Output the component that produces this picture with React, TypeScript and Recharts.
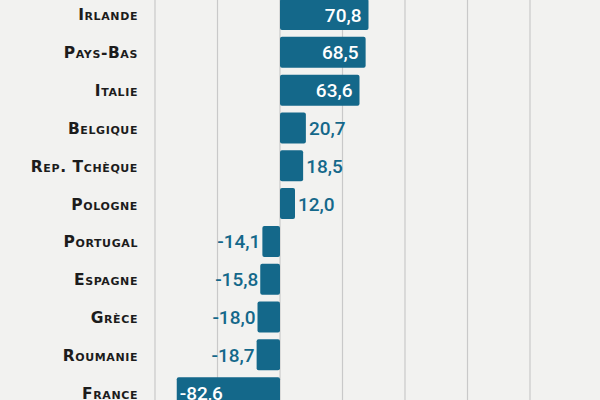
import React from "react";
import { BarChart, Bar, XAxis, YAxis, CartesianGrid, LabelList } from "recharts";

const countries = [
  "Irlande",
  "Pays-Bas",
  "Italie",
  "Belgique",
  "Rep. Tchèque",
  "Pologne",
  "Portugal",
  "Espagne",
  "Grèce",
  "Roumanie",
  "France",
];
const values = [70.8, 68.5, 63.6, 20.7, 18.5, 12.0, -14.1, -15.8, -18.0, -18.7, -82.6];
const xTicks = [-100, -50, 0, 50, 100, 150, 200];

const data = countries.map((name, i) => ({ name, value: values[i] }));

const BAR = "#14688a";
const fmt = (v: number) => v.toFixed(1).replace(".", ",");

const CountryTick = (props: any) => {
  const { y, payload } = props;
  return (
    <text
      x={138}
      y={y}
      dy={5.5}
      textAnchor="end"
      fill="#1c1c1c"
      fontFamily="DejaVu Sans, sans-serif"
      fontWeight={700}
      fontSize={15.5}
      style={{ fontVariant: "small-caps", letterSpacing: 0.6 }}
    >
      {payload.value}
    </text>
  );
};

const ValueLabel = (props: any) => {
  const { x, y, width, height, value } = props;
  const v = Number(value);
  const cy = y + height / 2 + 7;
  const big = Math.abs(v) > 40;
  let tx: number;
  let anchor: "start" | "end";
  let fill: string;
  const left = Math.min(x, x + width);
  const right = Math.max(x, x + width);
  if (v >= 0) {
    if (big) {
      tx = right - 7;
      anchor = "end";
      fill = "#ffffff";
    } else {
      tx = right + 3;
      anchor = "start";
      fill = BAR;
    }
  } else {
    if (big) {
      tx = left + 3;
      anchor = "start";
      fill = "#ffffff";
    } else {
      tx = left - 2;
      anchor = "end";
      fill = BAR;
    }
  }
  return (
    <text
      x={tx}
      y={cy}
      textAnchor={anchor}
      fill={fill}
      fontFamily="Roboto, sans-serif"
      fontWeight={500}
      fontSize={19}
    >
      {fmt(v)}
    </text>
  );
};

export default function App() {
  return (
    <div
      style={{
        position: "fixed",
        left: 0,
        top: 0,
        width: 600,
        height: 400,
        overflow: "hidden",
        background: "#f2f2f0",
      }}
    >
      <div style={{ position: "absolute", left: 0, top: -4 }}>
        <BarChart
          width={600}
          height={420}
          data={data}
          layout="vertical"
          margin={{ top: 0, right: 70, bottom: 4, left: 0 }}
          barSize={31}
        >
          <CartesianGrid horizontal={false} vertical stroke="#c9c9c9" strokeWidth={1.2} />
          <XAxis type="number" domain={[-100, 200]} ticks={xTicks} hide allowDataOverflow />
          <YAxis
            type="category"
            dataKey="name"
            width={155}
            axisLine={false}
            tickLine={false}
            tick={<CountryTick />}
            interval={0}
          />
          <Bar dataKey="value" fill={BAR} radius={2} isAnimationActive={false}>
            <LabelList dataKey="value" content={<ValueLabel />} />
          </Bar>
        </BarChart>
      </div>
    </div>
  );
}
